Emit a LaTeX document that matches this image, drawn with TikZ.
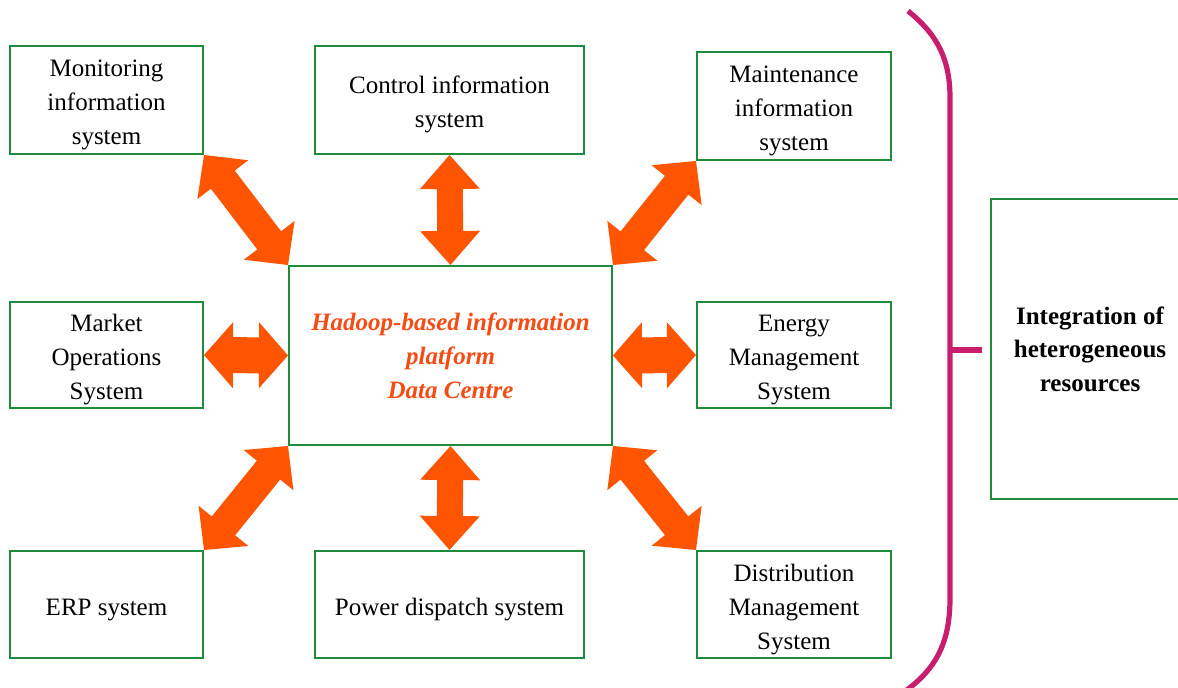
\documentclass[tikz,border=0pt]{standalone}
\usepackage{fontspec}
\setmainfont{Liberation Serif}
\usetikzlibrary{calc}
\definecolor{boxgreen}{RGB}{30,140,60}
\definecolor{arrorange}{RGB}{255,85,0}
\definecolor{bracemag}{RGB}{200,30,110}
\definecolor{hubred}{RGB}{245,75,20}
% text lines, lowered slightly inside the box (box size kept)
\newcommand\boxlines[1]{\raisebox{-2pt}[\height][\depth]{\begin{tabular}{@{}c@{}}#1\end{tabular}}}
% #1 tip A, #2 tip B, #3 half shaft, #4 half head, #5 head length
\newcommand\dblarrow[5]{%
  \coordinate (da1) at ($(#1)!#5!(#2)$);
  \coordinate (da2) at ($(#2)!#5!(#1)$);
  \fill[arrowfill] (#1) -- ($(da1)!#4!90:(#2)$) -- ($(da1)!#3!90:(#2)$)
    -- ($(da2)!#3!90:(#2)$) -- ($(da2)!#4!90:(#2)$) -- (#2)
    -- ($(da2)!#4!-90:(#2)$) -- ($(da2)!#3!-90:(#2)$)
    -- ($(da1)!#3!-90:(#2)$) -- ($(da1)!#4!-90:(#2)$) -- cycle;}
\begin{document}
\begin{tikzpicture}[x=0.5pt,y=-0.5pt,
  sysbox/.style={draw=boxgreen, line width=1pt, inner sep=0pt,
    font=\fontsize{12.5}{17}\selectfont},
  arrowfill/.style={fill=arrorange},
  bracestyle/.style={draw=bracemag, line width=2.6pt}]
\path[use as bounding box] (0,0) rectangle (1178,688);
\begin{scope}
\clip (0,0) rectangle (1178,688);
% boxes
\node[sysbox, minimum width=96.5pt, minimum height=54pt] (mon) at (106.5,100) {\boxlines{Monitoring\\information\\system}};
\node[sysbox, minimum width=134.5pt, minimum height=54pt] (ctl) at (449.5,100) {\boxlines{Control information\\system}};
\node[sysbox, minimum width=97pt, minimum height=54pt] (mnt) at (794,106) {\boxlines{Maintenance\\information\\system}};
\node[sysbox, minimum width=96.5pt, minimum height=53pt] (mkt) at (106.5,355) {\boxlines{Market\\Operations\\System}};
\node[sysbox, minimum width=161.5pt, minimum height=89.5pt, align=center,
  font=\fontsize{12.5}{17}\selectfont\bfseries\itshape, text=hubred] (hub) at (450.5,355.5) {Hadoop-based information\\platform\\Data Centre};
\node[sysbox, minimum width=97pt, minimum height=53pt] (eng) at (794,355) {\boxlines{Energy\\Management\\System}};
\node[sysbox, minimum width=96.5pt, minimum height=53.5pt] (erp) at (106.5,604.5) {\boxlines{ERP system}};
\node[sysbox, minimum width=134.5pt, minimum height=53.5pt] (pwr) at (449.5,604.5) {\boxlines{Power dispatch system}};
\node[sysbox, minimum width=97pt, minimum height=53.5pt] (dst) at (794,604.5) {\boxlines{Distribution\\Management\\System}};
\node[sysbox, minimum width=99pt, minimum height=150pt, align=center,
  font=\fontsize{12.5}{16.75}\selectfont\bfseries] (int) at (1090,349) {Integration of\\heterogeneous\\resources};
% arrows
\dblarrow{mon.south east}{hub.north west}{7.5pt}{16pt}{15.5pt}
\dblarrow{ctl.south}{hub.north}{6.5pt}{15pt}{17pt}
\dblarrow{mnt.south west}{hub.north east}{7.5pt}{16pt}{15.5pt}
\dblarrow{mkt.east}{hub.west}{9pt}{16.5pt}{14.5pt}
\dblarrow{eng.west}{hub.east}{9pt}{16.5pt}{14.5pt}
\dblarrow{erp.north east}{hub.south west}{7.5pt}{16pt}{15.5pt}
\dblarrow{pwr.north}{hub.south}{6.5pt}{15pt}{17pt}
\dblarrow{dst.north west}{hub.south east}{7.5pt}{16pt}{15.5pt}
% brace
\draw[bracestyle] (908,11) .. controls (938,35) and (950,60) .. (950,98)
  -- (950,598) .. controls (950,640) and (938,668) .. (904,692);
\coordinate (bm) at (950,350);
\coordinate (bt) at ($(int.west)+(-8,1)$);
\draw[bracestyle] (bm) -- (bt);
\end{scope}
\end{tikzpicture}
\end{document}
